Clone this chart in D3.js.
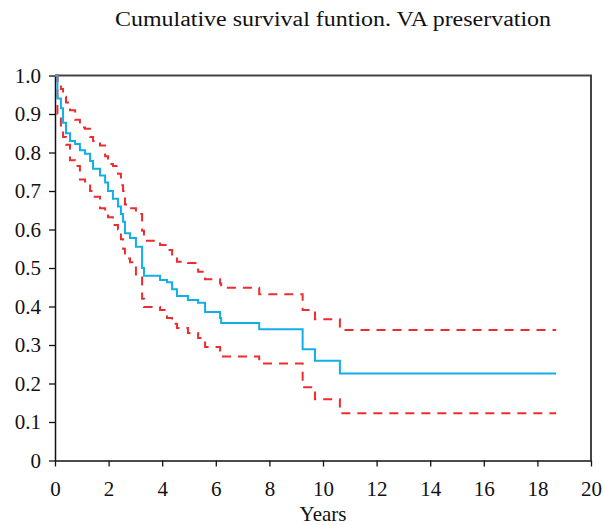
<!DOCTYPE html>
<html>
<head>
<meta charset="utf-8">
<script src="https://cdn.jsdelivr.net/npm/d3@7"></script>
<style>
  body { margin: 0; background: #fff; }
  text { font-family: "Liberation Serif", serif; fill: #111; }
</style>
</head>
<body>
<svg id="chart" width="604" height="525"></svg>
<script>
// step times (years) and estimates right after each step
const times = [0.09, 0.22, 0.30, 0.41, 0.56, 0.75, 0.93, 1.12, 1.31, 1.42, 1.68, 1.87, 1.98,
  2.16, 2.35, 2.46, 2.54, 2.61, 2.80, 3.02, 3.25, 3.32, 3.92, 4.18, 4.37, 4.55, 4.96,
  5.34, 5.60, 6.16, 6.20, 7.62, 9.24, 9.70, 10.63];
const survival = [0.94, 0.915, 0.877, 0.85, 0.83, 0.822, 0.806, 0.797, 0.778, 0.758, 0.74, 0.722, 0.70,
  0.68, 0.66, 0.64, 0.62, 0.59, 0.578, 0.555, 0.50, 0.48, 0.469, 0.463, 0.445, 0.427, 0.417,
  0.41, 0.386, 0.37, 0.357, 0.341, 0.289, 0.259, 0.226];
const upperCI = [0.985, 0.965, 0.945, 0.93, 0.91, 0.885, 0.865, 0.862, 0.84, 0.83, 0.818, 0.79, 0.77,
  0.765, 0.745, 0.715, 0.70, 0.665, 0.655, 0.64, 0.597, 0.571, 0.56, 0.547, 0.53, 0.516, 0.513,
  0.49, 0.471, 0.46, 0.449, 0.432, 0.391, 0.367, 0.339];
const lowerCI = [0.90, 0.87, 0.84, 0.82, 0.78, 0.765, 0.73, 0.725, 0.70, 0.685, 0.655, 0.645, 0.632,
  0.612, 0.60, 0.575, 0.55, 0.525, 0.515, 0.48, 0.42, 0.399, 0.391, 0.37, 0.355, 0.344, 0.331,
  0.318, 0.295, 0.28, 0.27, 0.252, 0.19, 0.159, 0.123];
const lastFollowUp = 18.7;

const xTicks = [0, 2, 4, 6, 8, 10, 12, 14, 16, 18, 20];
const yTicks = [0, 0.1, 0.2, 0.3, 0.4, 0.5, 0.6, 0.7, 0.8, 0.9, 1.0];

const margin = { top: 75.5, right: 13, bottom: 64.5, left: 55 };
const width = 604 - margin.left - margin.right;
const height = 525 - margin.top - margin.bottom;

const svg = d3.select("#chart");
const g = svg.append("g").attr("transform", `translate(${margin.left},${margin.top})`);

const x = d3.scaleLinear().domain([0, 20]).range([0, width]);
const y = d3.scaleLinear().domain([0, 1]).range([height, 0]);

const toSteps = vals => {
  const pts = [{ t: 0, v: 1 }];
  times.forEach((t, i) => pts.push({ t, v: vals[i] }));
  pts.push({ t: lastFollowUp, v: vals[vals.length - 1] });
  return pts;
};

const line = d3.line()
  .x(d => x(d.t))
  .y(d => y(d.v))
  .curve(d3.curveStepAfter);

// frame (top + right)
g.append("path")
  .attr("d", `M0,0H${width}V${height}`)
  .attr("fill", "none")
  .attr("stroke", "#444")
  .attr("stroke-width", 2);

const xAxis = g.append("g")
  .attr("transform", `translate(0,${height})`)
  .call(d3.axisBottom(x).tickValues(xTicks).tickSize(6).tickSizeOuter(0).tickPadding(15));

const yAxis = g.append("g")
  .call(d3.axisLeft(y).tickValues(yTicks).tickSize(6).tickSizeOuter(0).tickPadding(8)
    .tickFormat(d => d === 0 ? "0" : d.toFixed(1)));

[xAxis, yAxis].forEach(a => {
  a.select(".domain").attr("stroke", "#111").attr("stroke-width", 1.5);
  a.selectAll(".tick line").attr("stroke", "#111").attr("stroke-width", 1.3);
  a.selectAll(".tick text")
    .style("font-family", "Liberation Serif, serif")
    .style("font-size", "21px")
    .attr("fill", "#111");
});

[upperCI, lowerCI].forEach(ci => {
  g.append("path")
    .datum(toSteps(ci))
    .attr("d", line)
    .attr("fill", "none")
    .attr("stroke", "#ee2b2f")
    .attr("stroke-width", 2)
    .attr("stroke-dasharray", "9,7");
});

g.append("path")
  .datum(toSteps(survival))
  .attr("d", line)
  .attr("fill", "none")
  .attr("stroke", "#12aee8")
  .attr("stroke-width", 2);

svg.append("text")
  .attr("x", 333)
  .attr("y", 26)
  .attr("text-anchor", "middle")
  .attr("textLength", 436)
  .attr("lengthAdjust", "spacingAndGlyphs")
  .style("font-size", "20px")
  .text("Cumulative survival funtion. VA preservation");

svg.append("text")
  .attr("x", margin.left + width / 2)
  .attr("y", 521)
  .attr("text-anchor", "middle")
  .style("font-size", "21px")
  .text("Years");
</script>
</body>
</html>
